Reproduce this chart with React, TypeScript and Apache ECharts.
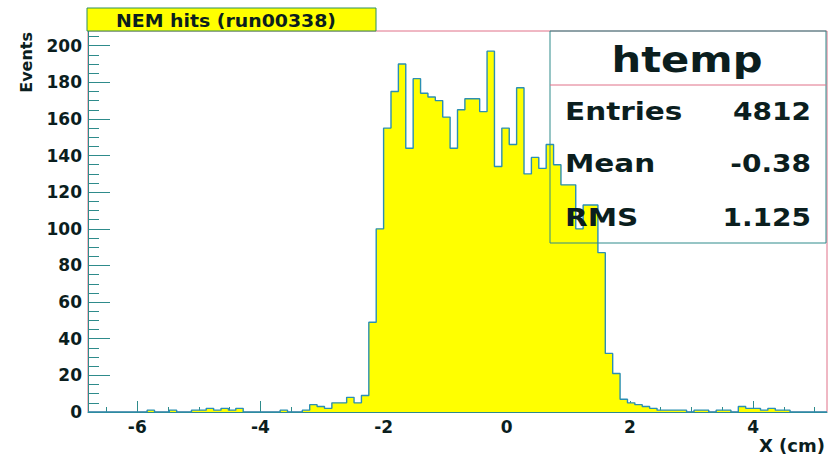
import React, { useEffect, useRef } from "react";
import * as echarts from "echarts";

// Histogram binning (100 bins from -6.8 to 5.2)
const binStart = -6.8;
const binWidth = 0.12;
const counts = [
  0, 0, 0, 0, 0, 0, 0, 0, 1, 0,
  0, 1, 0, 0, 1, 1, 2, 1, 2, 1,
  2, 0, 0, 0, 0, 0, 1, 0, 0, 1,
  4, 3, 2, 5, 5, 8, 5, 9, 49, 100,
  155, 175, 190, 144, 182, 174, 172, 170, 161, 144,
  165, 171, 171, 164, 197, 134, 155, 146, 177, 130,
  139, 133, 146, 135, 124, 124, 100, 113, 113, 87,
  32, 21, 7, 5, 4, 3, 2, 1, 1, 1,
  1, 0, 1, 1, 0, 1, 1, 0, 3, 2,
  2, 1, 2, 1, 1, 0, 0, 0, 0, 0,
];

const xLabelTicks = [-6, -4, -2, 0, 2, 4];
const xMinorTicks = [
  -6.5, -6, -5.5, -5, -4.5, -4, -3.5, -3, -2.5, -2, -1.5, -1, -0.5,
  0, 0.5, 1, 1.5, 2, 2.5, 3, 3.5, 4, 4.5, 5,
];
const yLabelTicks = [0, 20, 40, 60, 80, 100, 120, 140, 160, 180, 200];
const yMinorTicks = [
  5, 10, 15, 25, 30, 35, 45, 50, 55, 65, 70, 75, 85, 90, 95, 105, 110, 115,
  125, 130, 135, 145, 150, 155, 165, 170, 175, 185, 190, 195, 205,
];

const titleText = "NEM hits (run00338)";
const statsTitle = "htemp";
const statsLabels = ["Entries", "Mean", "RMS"];
const statsValues = ["4812", "-0.38", "1.125"];
const xTitle = "X (cm)";
const yTitle = "Events";

const TEAL = "#2e8b8b";
const PINK = "#e07088";
const TXT = "#0b1e1e";
const FONT = "'DejaVu Sans', sans-serif";

export default function App() {
  const ref = useRef<HTMLDivElement>(null);

  useEffect(() => {
    if (!ref.current) return;
    const chart = echarts.init(ref.current, undefined, { renderer: "svg" });
    const xMax = binStart + counts.length * binWidth;
    const lineData: number[][] = counts.map((c, i) => [binStart + i * binWidth, c]);
    lineData.push([xMax, 0]);

    const rowY = [111, 163, 217];
    const statScale = 1.18;

    const graphic: any[] = [
      {
        type: "rect",
        z: 100,
        shape: { x: 87, y: 8, width: 289, height: 23 },
        style: { fill: "#ffff00", stroke: "#2f8f5f", lineWidth: 1 },
      },
      {
        type: "text",
        z: 101,
        x: 226,
        y: 21,
        scaleX: 1.05,
        style: {
          text: titleText,
          fill: TXT,
          font: `bold 18px ${FONT}`,
          textAlign: "center",
          textVerticalAlign: "middle",
        },
      },
      {
        type: "rect",
        z: 100,
        shape: { x: 550, y: 31, width: 276, height: 212 },
        style: { fill: "none", stroke: TEAL, lineWidth: 1 },
      },
      {
        type: "line",
        z: 100,
        shape: { x1: 550, y1: 85, x2: 826, y2: 85 },
        style: { stroke: PINK, lineWidth: 1 },
      },
      {
        type: "text",
        z: 101,
        x: 687,
        y: 60,
        scaleX: 1.19,
        style: {
          text: statsTitle,
          fill: TXT,
          font: `bold 35px ${FONT}`,
          textAlign: "center",
          textVerticalAlign: "middle",
        },
      },
      {
        type: "text",
        z: 101,
        x: 825,
        y: 445,
        style: {
          text: xTitle,
          fill: TXT,
          font: `bold 18px ${FONT}`,
          textAlign: "right",
          textVerticalAlign: "middle",
        },
      },
      {
        type: "text",
        z: 101,
        x: 26,
        y: 32,
        rotation: Math.PI / 2,
        style: {
          text: yTitle,
          fill: TXT,
          font: `bold 16px ${FONT}`,
          textAlign: "right",
          textVerticalAlign: "middle",
        },
      },
    ];
    statsLabels.forEach((lab, i) => {
      graphic.push({
        type: "text",
        z: 101,
        x: 565,
        y: rowY[i],
        scaleX: statScale,
        style: {
          text: lab,
          fill: TXT,
          font: `bold 25px ${FONT}`,
          textAlign: "left",
          textVerticalAlign: "middle",
        },
      });
      graphic.push({
        type: "text",
        z: 101,
        x: 811,
        y: rowY[i],
        scaleX: 1.12,
        style: {
          text: statsValues[i],
          fill: TXT,
          font: `bold 25px ${FONT}`,
          textAlign: "right",
          textVerticalAlign: "middle",
        },
      });
    });

    const labelStyle = {
      fontFamily: FONT,
      fontWeight: "bold" as const,
      fontSize: 17,
      color: TXT,
    };

    chart.setOption({
      animation: false,
      backgroundColor: "#ffffff",
      grid: {
        left: 88,
        right: 1,
        top: 31,
        bottom: 42,
        show: true,
        borderColor: PINK,
        borderWidth: 1,
        backgroundColor: "transparent",
        containLabel: false,
        outerBoundsMode: "none",
      },
      xAxis: [
        {
          type: "value",
          min: binStart,
          max: xMax,
          position: "bottom",
          axisLine: { show: true, onZero: false, lineStyle: { color: TEAL, width: 1 } },
          axisTick: {
            show: true,
            inside: true,
            length: 11,
            customValues: xLabelTicks,
            lineStyle: { color: TEAL, width: 1 },
          },
          axisLabel: { ...labelStyle, margin: 6, customValues: xLabelTicks },
          splitLine: { show: false },
        },
        {
          type: "value",
          min: binStart,
          max: xMax,
          position: "bottom",
          axisLine: { show: false, onZero: false },
          axisTick: {
            show: true,
            inside: true,
            length: 5,
            customValues: xMinorTicks,
            lineStyle: { color: TEAL, width: 1 },
          },
          axisLabel: { show: false },
          splitLine: { show: false },
        },
      ],
      yAxis: [
        {
          type: "value",
          min: 0,
          max: 208,
          position: "left",
          axisLine: { show: true, onZero: false, lineStyle: { color: TEAL, width: 1 } },
          axisTick: {
            show: true,
            inside: true,
            length: 22,
            customValues: yLabelTicks,
            lineStyle: { color: TEAL, width: 1 },
          },
          axisLabel: { ...labelStyle, margin: 6, customValues: yLabelTicks },
          splitLine: { show: false },
        },
        {
          type: "value",
          min: 0,
          max: 208,
          position: "left",
          axisLine: { show: false, onZero: false },
          axisTick: {
            show: true,
            inside: true,
            length: 11,
            customValues: yMinorTicks,
            lineStyle: { color: TEAL, width: 1 },
          },
          axisLabel: { show: false },
          splitLine: { show: false },
        },
      ],
      series: [
        {
          type: "line",
          xAxisIndex: 0,
          yAxisIndex: 0,
          data: lineData,
          step: "end",
          symbol: "none",
          lineStyle: { color: "#2b8fb3", width: 1.4 },
          areaStyle: { color: "#ffff00", opacity: 1 },
          z: 2,
        },
      ],
      graphic,
    });

    return () => chart.dispose();
  }, []);

  return (
    <div
      ref={ref}
      style={{ position: "fixed", left: 0, top: 0, width: 828, height: 454, background: "#fff" }}
    />
  );
}
